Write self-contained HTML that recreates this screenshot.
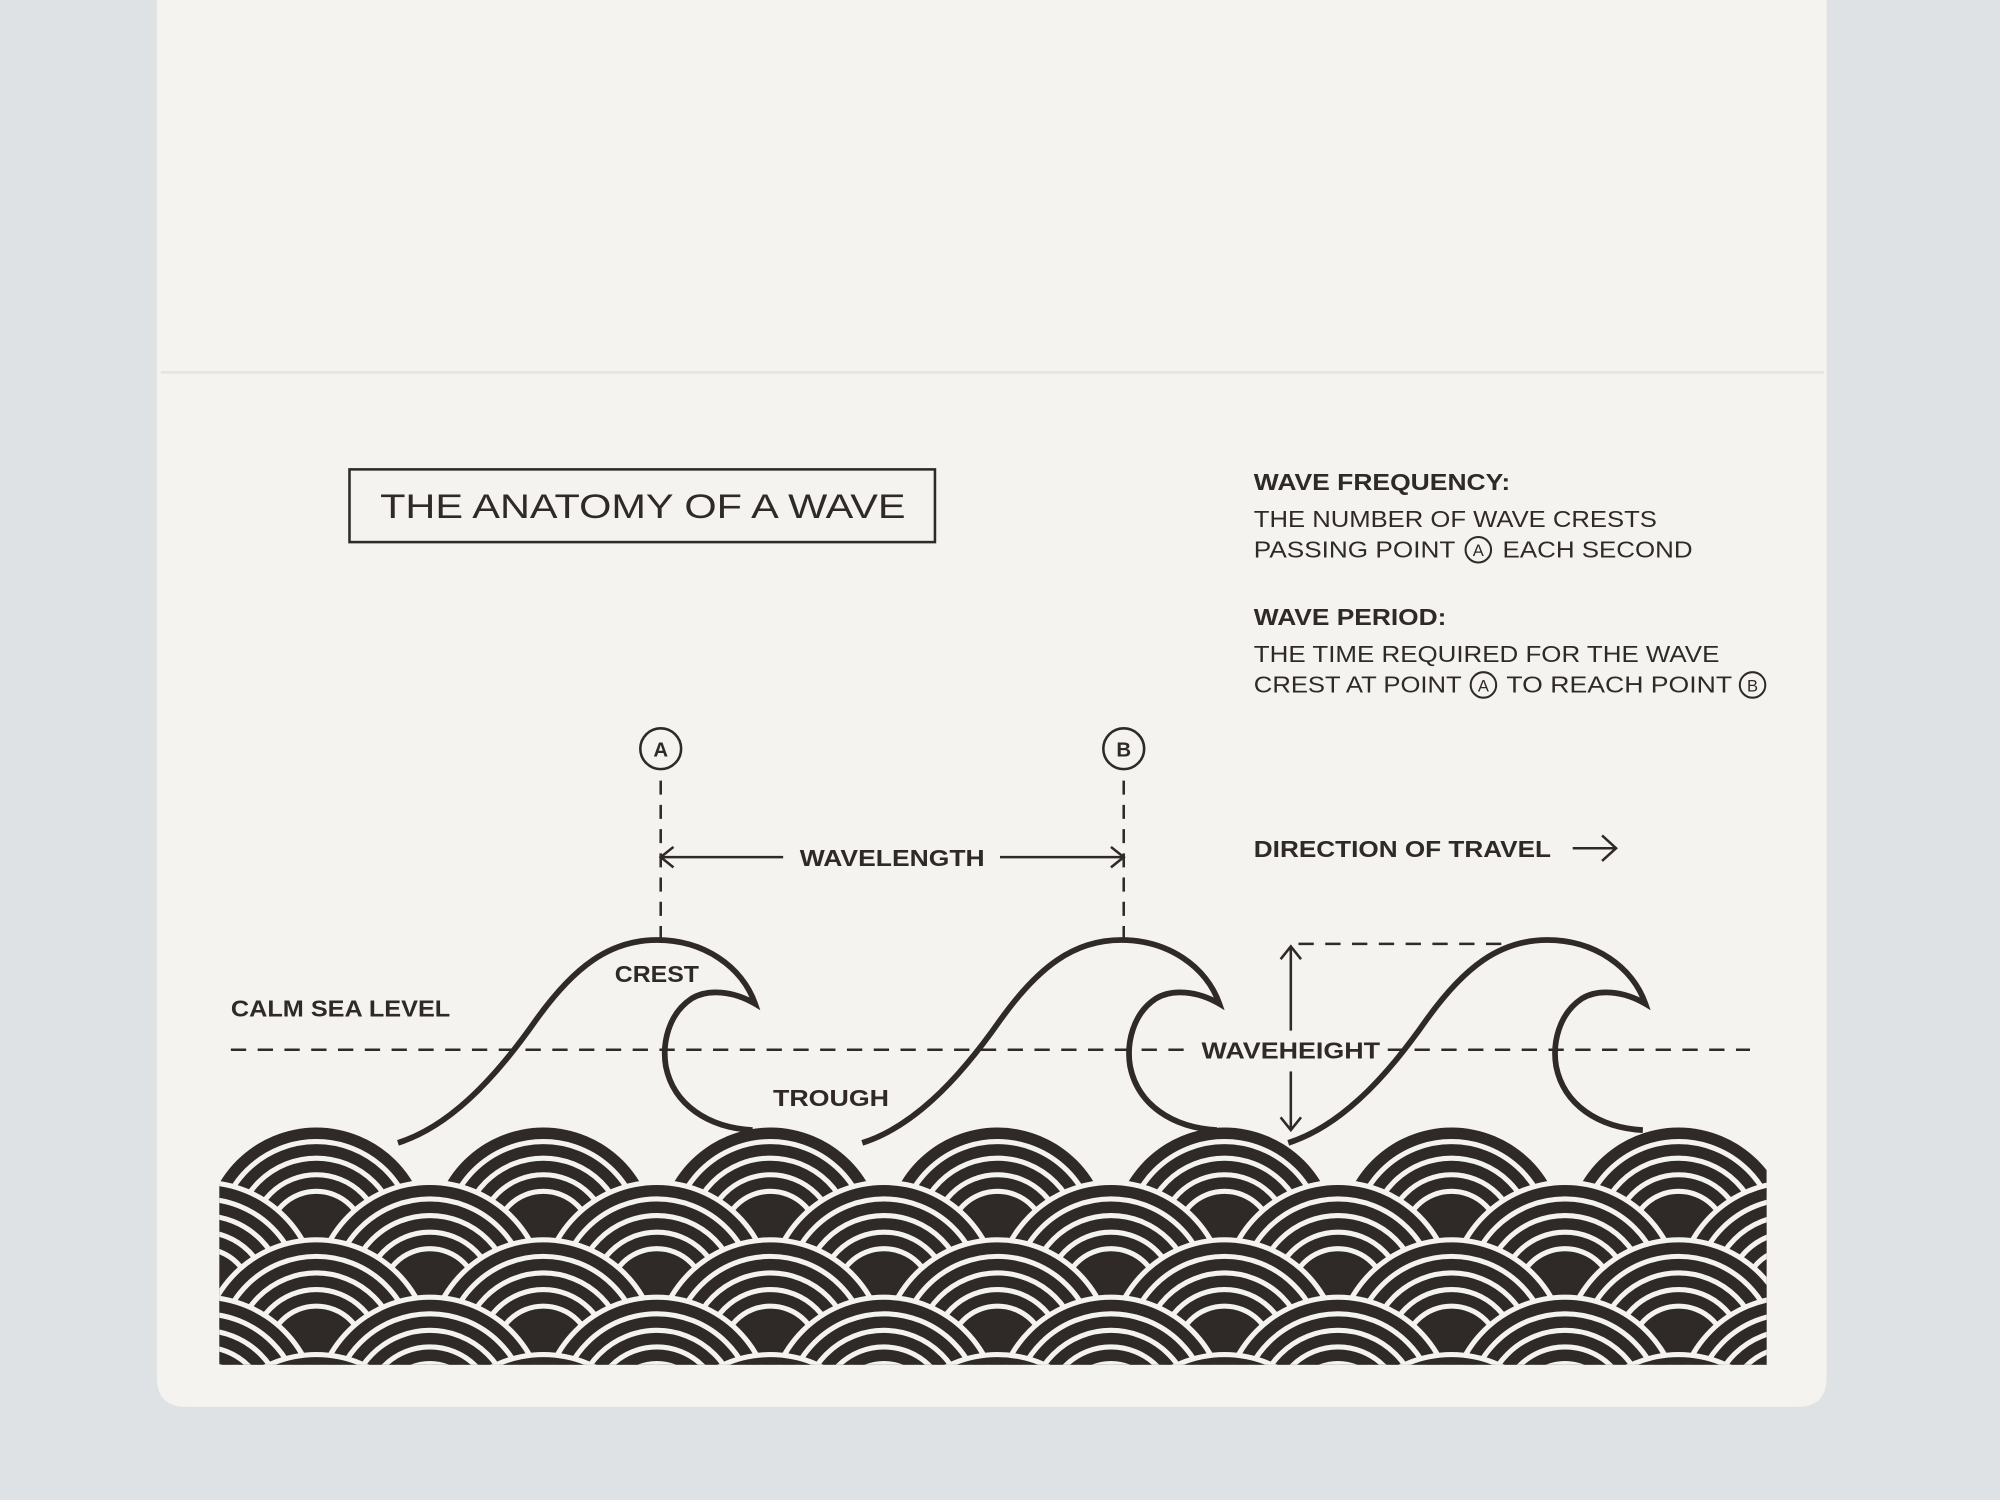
<!DOCTYPE html>
<html><head><meta charset="utf-8"><style>
html,body{margin:0;padding:0;width:2000px;height:1500px;overflow:hidden;background:#dfe2e5}
svg{display:block;position:absolute;left:0;top:0}
text{font-family:"Liberation Sans",sans-serif;fill:#2f2a27}
.b{font-weight:bold}
</style></head><body>
<svg width="2000" height="1500" viewBox="0 0 1568 1176" xmlns="http://www.w3.org/2000/svg">
<defs>
<g id="s">
<circle r="92" fill="#f5f3ef"/>
<circle r="88" fill="#2f2a27"/>
<g fill="none" stroke="#f5f3ef" stroke-width="4">
<circle r="77"/><circle r="64"/><circle r="51"/><circle r="38"/>
</g>
</g>
<clipPath id="cp"><rect x="172" y="860" width="1213" height="210"/></clipPath>
<path id="wv" d="M312 896 C350 884 385 850 420 800 C450 758 478 737 515 737 C552 737 582 758 592 787 C575 777 555 775 542 783 C524 795 519 818 522 836 C528 866 555 884 590 886"/>
</defs>
<rect width="1568" height="1176" fill="#dfe2e5"/>
<path d="M123 0 H1432 V1080 Q1432 1103 1409 1103 H146 Q123 1103 123 1080 Z" fill="#f5f3ef"/>
<line x1="126" y1="292" x2="1430" y2="292" stroke="#e7e4df" stroke-width="2"/>

<rect x="274" y="368" width="459" height="57" fill="none" stroke="#2f2a27" stroke-width="2"/>
<text x="298" y="406" font-size="27" textLength="412" lengthAdjust="spacingAndGlyphs">THE ANATOMY OF A WAVE</text>

<text class="b" x="983" y="384" font-size="18" textLength="201" lengthAdjust="spacingAndGlyphs">WAVE FREQUENCY:</text>
<text x="983" y="413" font-size="18" textLength="316" lengthAdjust="spacingAndGlyphs">THE NUMBER OF WAVE CRESTS</text>
<text x="983" y="437" font-size="18" textLength="158" lengthAdjust="spacingAndGlyphs">PASSING POINT</text>
<circle cx="1159" cy="431" r="10" fill="none" stroke="#2f2a27" stroke-width="1.6"/>
<text x="1159" y="436" font-size="13" text-anchor="middle">A</text>
<text x="1178" y="437" font-size="18" textLength="149" lengthAdjust="spacingAndGlyphs">EACH SECOND</text>
<text class="b" x="983" y="490" font-size="18" textLength="151" lengthAdjust="spacingAndGlyphs">WAVE PERIOD:</text>
<text x="983" y="519" font-size="18" textLength="365" lengthAdjust="spacingAndGlyphs">THE TIME REQUIRED FOR THE WAVE</text>
<text x="983" y="543" font-size="18" textLength="163" lengthAdjust="spacingAndGlyphs">CREST AT POINT</text>
<circle cx="1163" cy="537" r="10" fill="none" stroke="#2f2a27" stroke-width="1.6"/>
<text x="1163" y="542" font-size="13" text-anchor="middle">A</text>
<text x="1181" y="543" font-size="18" textLength="177" lengthAdjust="spacingAndGlyphs">TO REACH POINT</text>
<circle cx="1374" cy="537" r="10" fill="none" stroke="#2f2a27" stroke-width="1.6"/>
<text x="1374" y="542" font-size="13" text-anchor="middle">B</text>

<g stroke="#2f2a27" fill="none" stroke-width="2">
<circle cx="518" cy="587" r="16"/><circle cx="881" cy="587" r="16"/>
<line x1="518" y1="612" x2="518" y2="737" stroke-dasharray="11 8"/>
<line x1="881" y1="612" x2="881" y2="737" stroke-dasharray="11 8"/>
<line x1="518" y1="672" x2="614" y2="672"/><line x1="784" y1="672" x2="881" y2="672"/>
<path d="M528 664 L518 672 L528 680 M871 664 L881 672 L871 680"/>
<line x1="1233" y1="665" x2="1266" y2="665"/><path d="M1256 655 L1267 665 L1256 675"/>
<line x1="181" y1="823" x2="935" y2="823" stroke-dasharray="12 9"/>
<line x1="1088" y1="823" x2="1372" y2="823" stroke-dasharray="12 9"/>
<line x1="1012" y1="742" x2="1012" y2="808"/><line x1="1012" y1="840" x2="1012" y2="886"/>
<path d="M1004 752 L1012 742 L1020 752 M1004 876 L1012 886 L1020 876"/>
<line x1="1018" y1="740" x2="1190" y2="740" stroke-dasharray="12 9"/>
</g>
<text x="518" y="593" font-size="16" class="b" text-anchor="middle">A</text>
<text x="881" y="593" font-size="16" class="b" text-anchor="middle">B</text>
<text class="b" x="627" y="679" font-size="18" textLength="145" lengthAdjust="spacingAndGlyphs">WAVELENGTH</text>
<text class="b" x="983" y="672" font-size="18" textLength="233" lengthAdjust="spacingAndGlyphs">DIRECTION OF TRAVEL</text>
<text class="b" x="181" y="797" font-size="18" textLength="172" lengthAdjust="spacingAndGlyphs">CALM SEA LEVEL</text>

<g clip-path="url(#cp)">
<use href="#s" x="70" y="972"/><use href="#s" x="248" y="972"/><use href="#s" x="426" y="972"/><use href="#s" x="604" y="972"/><use href="#s" x="782" y="972"/><use href="#s" x="960" y="972"/><use href="#s" x="1138" y="972"/><use href="#s" x="1316" y="972"/><use href="#s" x="1494" y="972"/>
<use href="#s" x="159" y="1017"/><use href="#s" x="337" y="1017"/><use href="#s" x="515" y="1017"/><use href="#s" x="693" y="1017"/><use href="#s" x="871" y="1017"/><use href="#s" x="1049" y="1017"/><use href="#s" x="1227" y="1017"/><use href="#s" x="1405" y="1017"/>
<use href="#s" x="70" y="1062"/><use href="#s" x="248" y="1062"/><use href="#s" x="426" y="1062"/><use href="#s" x="604" y="1062"/><use href="#s" x="782" y="1062"/><use href="#s" x="960" y="1062"/><use href="#s" x="1138" y="1062"/><use href="#s" x="1316" y="1062"/><use href="#s" x="1494" y="1062"/>
<use href="#s" x="159" y="1107"/><use href="#s" x="337" y="1107"/><use href="#s" x="515" y="1107"/><use href="#s" x="693" y="1107"/><use href="#s" x="871" y="1107"/><use href="#s" x="1049" y="1107"/><use href="#s" x="1227" y="1107"/><use href="#s" x="1405" y="1107"/>
<use href="#s" x="70" y="1152"/><use href="#s" x="248" y="1152"/><use href="#s" x="426" y="1152"/><use href="#s" x="604" y="1152"/><use href="#s" x="782" y="1152"/><use href="#s" x="960" y="1152"/><use href="#s" x="1138" y="1152"/><use href="#s" x="1316" y="1152"/><use href="#s" x="1494" y="1152"/>
</g>

<g fill="none" stroke="#2f2a27" stroke-width="4.5">
<use href="#wv"/>
<use href="#wv" x="364"/>
<use href="#wv" x="698"/>
</g>
<text class="b" x="482" y="770" font-size="18" textLength="66" lengthAdjust="spacingAndGlyphs">CREST</text>
<text class="b" x="606" y="867" font-size="18" textLength="91" lengthAdjust="spacingAndGlyphs">TROUGH</text>
<text class="b" x="942" y="830" font-size="18" textLength="140" lengthAdjust="spacingAndGlyphs">WAVEHEIGHT</text>
</svg>
</body></html>
